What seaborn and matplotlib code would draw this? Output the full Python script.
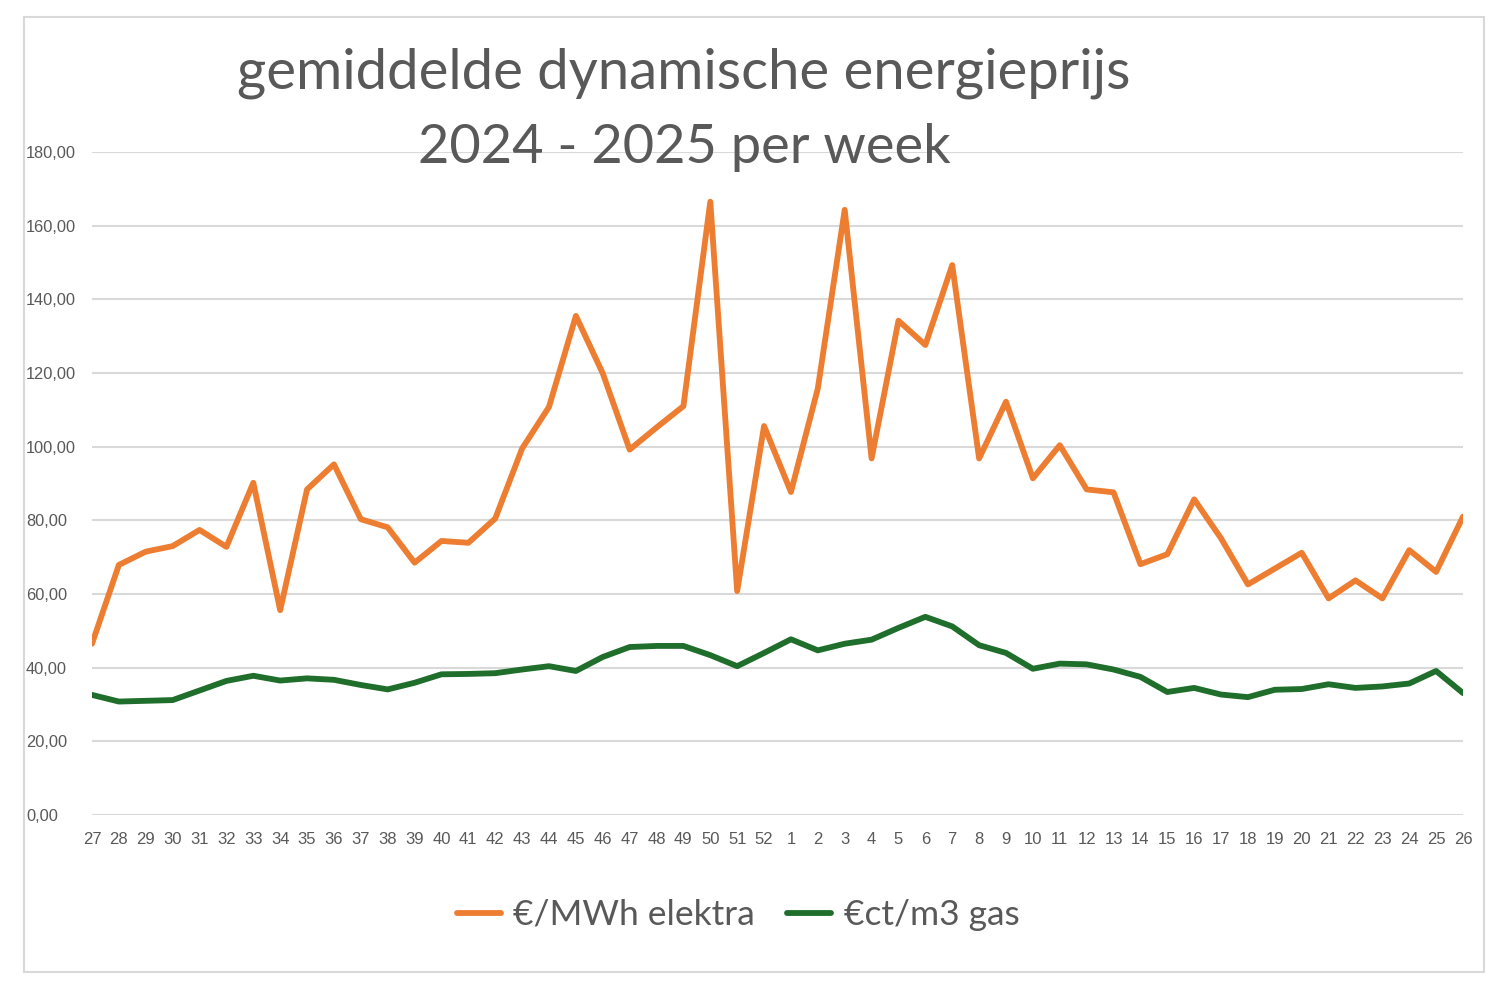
import pandas as pd
import matplotlib
matplotlib.use("Agg")
import matplotlib.pyplot as plt
import seaborn as sns
from matplotlib.patches import Rectangle

# week numbers (2024 week 27 .. 2025 week 26)
weeks = [str(w) for w in list(range(27, 53)) + list(range(1, 27))]

elektra = [46.5, 67.9, 71.5, 73.0, 77.4, 72.8, 90.2, 55.6, 88.4, 95.2,
           80.3, 78.1, 68.5, 74.4, 73.9, 80.5, 99.5, 110.8, 135.5, 119.9,
           99.2, 105.2, 111.0, 166.5, 60.8, 105.6, 87.7, 115.8, 164.3, 96.8,
           134.2, 127.6, 149.3, 96.8, 112.2, 91.4, 100.4, 88.4, 87.6, 68.1,
           70.8, 85.7, 75.1, 62.6, 66.9, 71.2, 58.8, 63.7, 58.8, 71.9,
           66.0, 81.0]

gas = [32.6, 30.8, 31.0, 31.2, 33.8, 36.4, 37.8, 36.5, 37.1, 36.7,
       35.3, 34.1, 35.9, 38.2, 38.3, 38.5, 39.5, 40.4, 39.1, 42.9,
       45.6, 45.9, 45.9, 43.4, 40.4, 44.0, 47.7, 44.7, 46.5, 47.6,
       50.8, 53.8, 51.2, 46.1, 44.0, 39.7, 41.1, 40.9, 39.5, 37.5,
       33.4, 34.5, 32.7, 32.0, 34.0, 34.2, 35.5, 34.5, 34.9, 35.7,
       39.1, 33.1]

labels = ["€/MWh elektra", "€ct/m3 gas"]
colors = ["#ED7D31", "#1F6E2B"]
yticks = [0, 20, 40, 60, 80, 100, 120, 140, 160, 180]

df = pd.DataFrame({
    "week": weeks * 2,
    "prijs": elektra + gas,
    "serie": [labels[0]] * len(weeks) + [labels[1]] * len(weeks),
})

sns.set_style("white")
plt.rcParams["font.family"] = ["Liberation Sans", "DejaVu Sans"]
text_col = "#595959"

fig = plt.figure(figsize=(15, 9.84), dpi=100)
fig.patches.append(Rectangle((24 / 1500, 1 - 972 / 984), 1460 / 1500, 955 / 984,
                             transform=fig.transFigure, fill=False,
                             edgecolor="#d9d9d9", lw=1.5))

ax = fig.add_axes([92 / 1500, 1 - 815 / 984, 1371 / 1500, 663 / 984])
sns.lineplot(data=df, x="week", y="prijs", hue="serie", palette=colors,
             linewidth=4.2, sort=False, ax=ax, legend=False)

ax.set_xlim(0, len(weeks) - 1)
ax.set_ylim(0, 180)
ax.set_yticks(yticks)
ax.set_yticklabels([f"{v},00" for v in yticks])
ax.yaxis.grid(True, color="#d9d9d9", lw=1.5)
ax.set_axisbelow(True)
for s in ax.spines.values():
    s.set_visible(False)
ax.set_xlabel("")
ax.set_ylabel("")
ax.tick_params(axis="both", length=0, colors=text_col)
ax.tick_params(axis="x", pad=12)
ax.tick_params(axis="y", pad=47.5)
for lbl in ax.get_yticklabels():
    lbl.set_horizontalalignment("left")
    lbl.set_fontsize(11.8)
for lbl in ax.get_xticklabels():
    lbl.set_family(["Liberation Sans Narrow", "Liberation Sans"])
    lbl.set_fontsize(12)

fig.text(684 / 1500, 1 - 73 / 984, "gemiddelde dynamische energieprijs",
         ha="center", va="center", fontsize=40.5, color=text_col, family="Lato")
fig.text(684 / 1500, 1 - 147 / 984, "2024 - 2025 per week",
         ha="center", va="center", fontsize=39, color=text_col, family="Lato")

handles = [plt.Line2D([], [], color=c, lw=4.2) for c in colors]
leg = fig.legend(handles, labels, loc="center", ncol=2, frameon=False,
                 bbox_to_anchor=(738 / 1500, 1 - 915 / 984),
                 handlelength=1.25, handletextpad=0.35, columnspacing=0.9,
                 prop={"family": "Lato", "size": 25.5})
for t in leg.get_texts():
    t.set_color(text_col)

fig.savefig("out.png", dpi=100, facecolor="white")
